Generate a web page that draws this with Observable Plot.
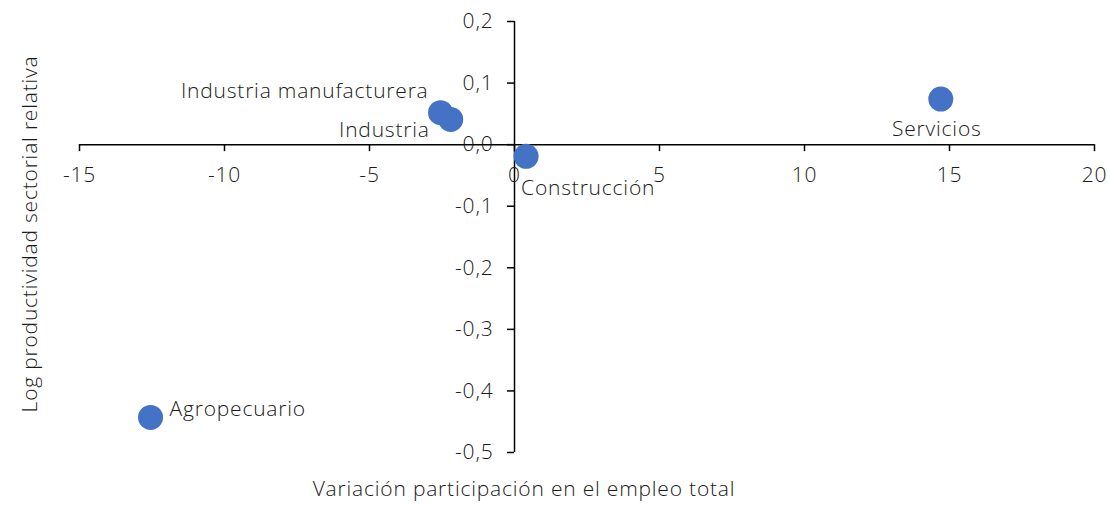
<!DOCTYPE html>
<html><head><meta charset="utf-8">
<script src="https://cdn.jsdelivr.net/npm/d3@7"></script>
<script src="https://cdn.jsdelivr.net/npm/@observablehq/plot@0.6"></script>
<style>
body{margin:0;background:#fff;}
svg{font-family:"Open Sans",sans-serif;font-weight:300;letter-spacing:0.8px;}
</style></head><body><div id="chart"></div>
<script>
const sectors = ["Agropecuario","Industria manufacturera","Industria","Construcción","Servicios"];
const empChange = [-12.55, -2.55, -2.2, 0.4, 14.7];
const logProd = [-0.443, 0.052, 0.041, -0.019, 0.074];
const xTicks = [-15,-10,-5,0,5,10,15,20];
const yTicks = [0.2,0.1,0,-0.1,-0.2,-0.3,-0.4,-0.5];
const xTitle = "Variación participación en el empleo total";
const yTitle = "Log productividad sectorial relativa";

const data = sectors.map((s,i)=>({s, x: empChange[i], y: logProd[i]}));
const fmtY = d => d3.format(".1f")(d).replace("−","-").replace(".",",");
const fmtX = d => String(d).replace("−","-");
const labelPos = {
  "Agropecuario": {dx: 19, dy: -8, anchor: "start"},
  "Industria manufacturera": {dx: -12, dy: -21, anchor: "end"},
  "Industria": {dx: -21, dy: 11, anchor: "end"},
  "Construcción": {dx: -5, dy: 32, anchor: "start"},
  "Servicios": {dx: -4, dy: 30, anchor: "middle"}
};
const txtColor = "#1a1a1a";
const fs = 21;

const marks = [
  Plot.ruleY([0], {stroke: "#000", strokeWidth: 1.5}),
  Plot.ruleX([0], {stroke: "#000", strokeWidth: 1.5}),
  Plot.ruleX(xTicks, {x: d=>d, y1: 0, y2: 0, insetBottom: -7, stroke: "#000", strokeWidth: 1.5}),
  Plot.ruleY(yTicks, {y: d=>d, x1: 0, x2: 0, insetLeft: -7, stroke: "#000", strokeWidth: 1.5}),
  Plot.text(xTicks, {x: d=>d, y: ()=>0, text: fmtX, dy: 31, fontSize: fs, fill: txtColor}),
  Plot.text(yTicks, {y: d=>d, x: ()=>0, text: fmtY, dx: -21, textAnchor: "end", fontSize: fs, fill: txtColor}),
  Plot.dot(data, {x: "x", y: "y", r: 12.5, fill: "#4472C4"}),
  ...data.map(d => Plot.text([d], {x: "x", y: "y", text: "s", dx: labelPos[d.s].dx, dy: labelPos[d.s].dy, textAnchor: labelPos[d.s].anchor, fontSize: fs, fill: txtColor})),
  Plot.text([xTitle], {text: d=>d, frameAnchor: "bottom", textAnchor: "middle", dy: 43, dx: -63, fontSize: fs, fill: txtColor}),
  Plot.text([yTitle], {text: d=>d, frameAnchor: "left", textAnchor: "middle", rotate: -90, dx: -49, dy: -3, fontSize: fs, fill: txtColor})
];

const chart = Plot.plot({
  width: 1107, height: 505,
  marginLeft: 79, marginRight: 13, marginTop: 21, marginBottom: 53,
  x: {domain: [-15, 20], axis: null},
  y: {domain: [-0.5, 0.2], axis: null},
  style: {fontFamily: "'Open Sans', sans-serif", fontWeight: 300, background: "#fff", overflow: "visible"},
  marks
});
document.getElementById("chart").appendChild(chart);
</script></body></html>
